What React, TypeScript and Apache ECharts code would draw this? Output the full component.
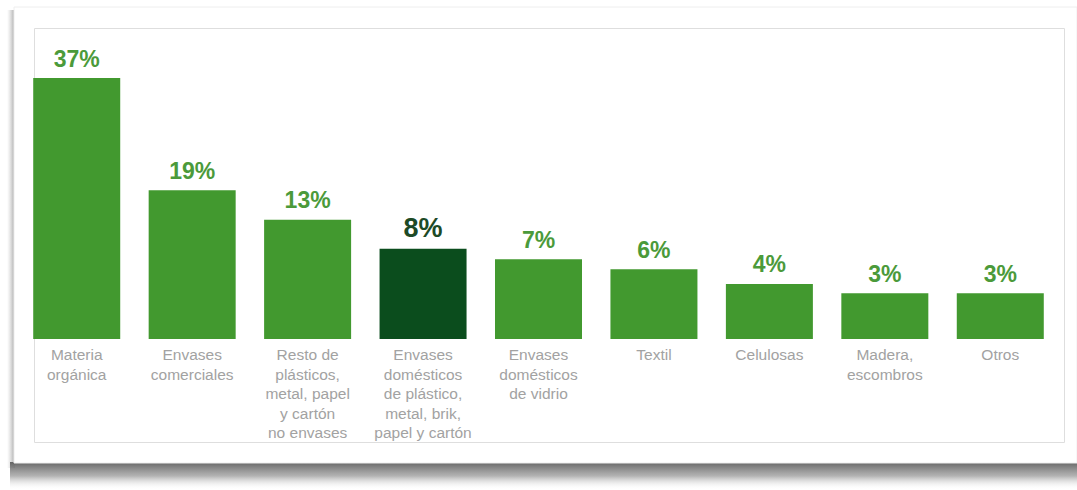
import React, { useEffect, useRef } from "react";
import * as echarts from "echarts";

const categories = [
  "Materia\norgánica",
  "Envases\ncomerciales",
  "Resto de\nplásticos,\nmetal, papel\ny cartón\nno envases",
  "Envases\ndomésticos\nde plástico,\nmetal, brik,\npapel y cartón",
  "Envases\ndomésticos\nde vidrio",
  "Textil",
  "Celulosas",
  "Madera,\nescombros",
  "Otros",
];

// Percentages shown as labels
const percentages = [37, 19, 13, 8, 7, 6, 4, 3, 3];

// Bar lengths as drawn in the (non-proportional) infographic, in display units
const barLengths = [37, 21.1, 16.9, 12.8, 11.3, 9.9, 7.8, 6.5, 6.5];

const highlightIndex = 3;

const GREEN = "#42992f";
const DARK_GREEN = "#0b4d1d";
const LABEL_GREEN = "#4b9a3a";
const LABEL_DARK = "#1d4a26";
const FONT = "'Liberation Sans', Arial, sans-serif";

export default function App() {
  const ref = useRef<HTMLDivElement>(null);

  useEffect(() => {
    if (!ref.current) return;
    const chart = echarts.init(ref.current, null, { renderer: "svg" });
    chart.setOption({
      animation: false,
      backgroundColor: "#ffffff",
      graphic: [
        // left shadow strip of card
        {
          type: "rect",
          silent: true,
          z: -10,
          shape: { x: 7, y: 10, width: 8, height: 458 },
          style: {
            fill: new echarts.graphic.LinearGradient(0, 0, 1, 0, [
              { offset: 0, color: "rgba(200,200,200,0)" },
              { offset: 1, color: "rgba(150,150,150,0.9)" },
            ]),
          },
        },
        // bottom shadow
        {
          type: "rect",
          silent: true,
          z: -10,
          shape: { x: 10, y: 462, width: 1067, height: 28 },
          style: {
            fill: new echarts.graphic.LinearGradient(0, 0, 0, 1, [
              { offset: 0, color: "rgba(100,100,100,1)" },
              { offset: 0.5, color: "rgba(160,160,160,0.8)" },
              { offset: 1, color: "rgba(255,255,255,0)" },
            ]),
          },
        },
        // card
        {
          type: "rect",
          silent: true,
          z: -9,
          shape: { x: 14, y: 7, width: 1063, height: 456 },
          style: { fill: "#ffffff", stroke: "#eeeeee", lineWidth: 1 },
        },
        // inner frame
        {
          type: "rect",
          silent: true,
          z: -8,
          shape: { x: 34.5, y: 28.5, width: 1030, height: 414 },
          style: { fill: "#ffffff", stroke: "#dedede", lineWidth: 1 },
        },
      ],
      grid: {
        left: 19,
        top: 78,
        width: 1039,
        height: 261,
        containLabel: false,
      },
      xAxis: {
        type: "category",
        data: categories,
        axisLine: { show: false },
        axisTick: { show: false },
        axisLabel: {
          interval: 0,
          margin: 6,
          color: "#a2a2a2",
          fontFamily: FONT,
          fontSize: 15.5,
          lineHeight: 19.5,
          align: "center",
        },
      },
      yAxis: {
        type: "value",
        min: 0,
        max: 37,
        show: false,
        splitLine: { show: false },
      },
      series: [
        {
          type: "bar",
          barWidth: 87,
          data: barLengths.map((v, i) => ({
            value: v,
            itemStyle: { color: i === highlightIndex ? DARK_GREEN : GREEN },
            label: {
              fontSize: i === highlightIndex ? 27 : 23,
              color: i === highlightIndex ? LABEL_DARK : LABEL_GREEN,
              distance: i === highlightIndex ? 7 : 8,
            },
          })),
          label: {
            show: true,
            position: "top",
            fontFamily: FONT,
            fontWeight: "bold",
            formatter: (p: any) => percentages[p.dataIndex] + "%",
          },
        },
      ],
    });
    return () => chart.dispose();
  }, []);

  return (
    <div
      ref={ref}
      style={{ position: "absolute", left: 0, top: 0, width: 1077, height: 490 }}
    />
  );
}
